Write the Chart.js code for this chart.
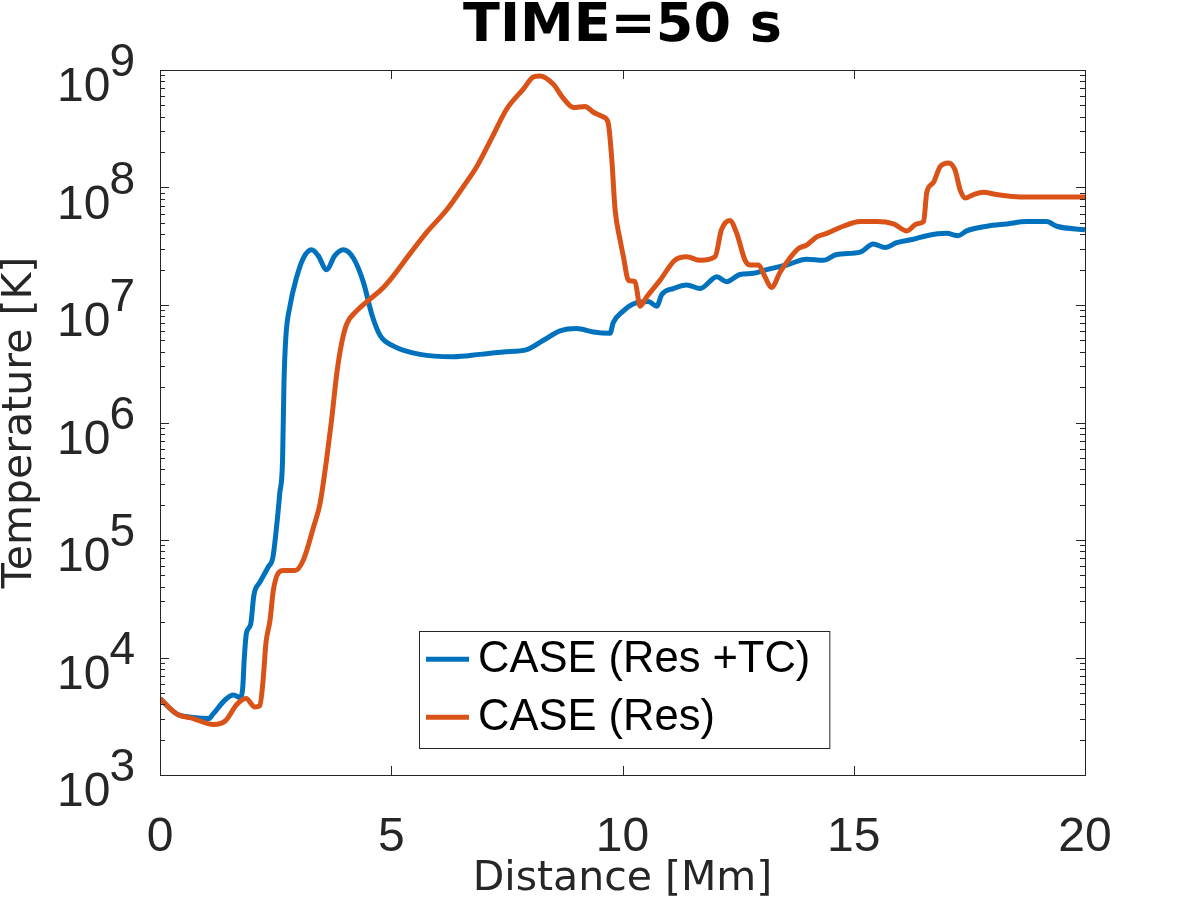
<!DOCTYPE html>
<html lang="en">
<head>
    <meta charset="UTF-8">
    <title>TIME=50 s</title>
    <script src="https://cdn.jsdelivr.net/npm/chart.js"></script>
    <style>
        body {
            margin: 0;
            background-color: #ffffff;
        }

        .chart-container {
            width: 1200px;
            height: 900px;
        }
    </style>
</head>
<body>

<div class="chart-container">
    <canvas id="tempChart" width="1200" height="900"></canvas>
</div>

<script>
    // Distance [Mm] / Temperature [K]
    const blueX = [0, 0.36, 0.72, 1.05, 1.15, 1.41, 1.59, 1.73, 1.79, 1.82,
        1.87, 1.96, 2.03, 2.16, 2.34, 2.44, 2.52, 2.59, 2.65, 2.68,
        2.72, 2.81, 2.95, 3.10, 3.28, 3.42, 3.60, 3.78, 3.96, 4.18,
        4.40, 4.58, 4.76, 5.05, 5.62, 6.34, 6.92, 7.42, 7.93, 8.29,
        8.65, 9.01, 9.37, 9.73, 9.80, 10.02, 10.23, 10.56, 10.74, 10.85,
        11.10, 11.39, 11.68, 12.04, 12.25, 12.54, 12.83, 13.12, 13.55, 13.98,
        14.34, 14.63, 15.14, 15.42, 15.68, 15.93, 16.29, 16.58, 17.01, 17.26,
        17.44, 17.88, 18.31, 18.74, 19.17, 19.39, 20];
    const blueT = [4.47e3, 3.31e3, 3.09e3, 3.02e3, 3.31e3, 4.37e3, 4.79e3, 4.57e3, 5.62e3, 9.55e3,
        1.62e4, 1.91e4, 3.39e4, 4.37e4, 5.89e4, 7.08e4, 1.29e5, 2.51e5, 4.79e5, 2.14e6,
        5.25e6, 9.77e6, 1.70e7, 2.51e7, 2.95e7, 2.63e7, 2.0e7, 2.63e7, 2.95e7, 2.51e7,
        1.55e7, 8.32e6, 5.50e6, 4.47e6, 3.80e6, 3.63e6, 3.80e6, 3.98e6, 4.17e6, 5.01e6,
        6.03e6, 6.31e6, 5.89e6, 5.75e6, 7.08e6, 8.91e6, 1.02e7, 1.07e7, 9.77e6, 1.23e7,
        1.38e7, 1.48e7, 1.38e7, 1.74e7, 1.58e7, 1.82e7, 1.86e7, 2.0e7, 2.19e7, 2.45e7,
        2.40e7, 2.69e7, 2.82e7, 3.31e7, 3.09e7, 3.39e7, 3.63e7, 3.89e7, 4.07e7, 3.89e7,
        4.27e7, 4.68e7, 4.90e7, 5.13e7, 5.13e7, 4.68e7, 4.37e7];

    const orangeX = [0, 0.36, 0.72, 1.15, 1.41, 1.66, 1.86, 2.05, 2.16, 2.23,
        2.29, 2.38, 2.45, 2.56, 2.67, 2.92, 3.10, 3.32, 3.46, 3.60,
        3.71, 3.82, 3.93, 4.04, 4.25, 4.54, 4.83, 5.05, 5.41, 5.77,
        6.20, 6.56, 6.85, 7.21, 7.50, 7.86, 8.07, 8.22, 8.50, 8.72,
        8.94, 9.19, 9.37, 9.59, 9.69, 9.77, 9.84, 9.95, 10.02, 10.13,
        10.27, 10.38, 10.52, 10.81, 11.13, 11.39, 11.68, 12.00, 12.14, 12.32,
        12.47, 12.65, 12.76, 12.94, 13.08, 13.22, 13.41, 13.62, 13.80, 13.98,
        14.20, 14.42, 14.77, 15.14, 15.50, 15.86, 16.15, 16.36, 16.51, 16.58,
        16.72, 16.87, 17.05, 17.19, 17.30, 17.41, 17.59, 17.80, 18.09, 18.60, 20];
    const orangeT = [4.47e3, 3.31e3, 3.02e3, 2.69e3, 2.88e3, 3.98e3, 4.47e3, 3.80e3, 3.89e3, 6.46e3,
        1.32e4, 2.09e4, 3.72e4, 5.25e4, 5.50e4, 5.50e4, 6.76e4, 1.29e5, 2.04e5, 4.79e5,
        1.05e6, 2.57e6, 4.79e6, 6.92e6, 8.91e6, 1.12e7, 1.41e7, 1.78e7, 2.75e7, 4.17e7,
        6.46e7, 1.02e8, 1.51e8, 2.82e8, 4.68e8, 6.92e8, 8.71e8, 8.91e8, 7.59e8, 5.75e8,
        4.79e8, 4.90e8, 4.37e8, 3.98e8, 3.55e8, 1.70e8, 6.46e7, 3.55e7, 2.57e7, 1.62e7,
        1.58e7, 9.77e6, 1.17e7, 1.62e7, 2.40e7, 2.57e7, 2.40e7, 2.57e7, 4.37e7, 5.25e7,
        4.07e7, 2.40e7, 2.19e7, 2.19e7, 1.74e7, 1.41e7, 1.91e7, 2.51e7, 3.02e7, 3.24e7,
        3.80e7, 4.07e7, 4.68e7, 5.13e7, 5.13e7, 4.90e7, 4.27e7, 4.90e7, 5.13e7, 9.12e7,
        1.10e8, 1.51e8, 1.62e8, 1.41e8, 9.55e7, 8.13e7, 8.71e7, 9.12e7, 8.71e7, 8.32e7, 8.32e7];

    const seriesLabels = ['CASE (Res +TC)', 'CASE (Res)'];
    const xTicks = [0, 5, 10, 15, 20];
    const yTickExps = [3, 4, 5, 6, 7, 8, 9];
    const yMinorSteps = [2, 3, 4, 5, 6, 7, 8, 9];

    const AXIS_COLOR = '#262626';
    const TICK_FONT = '"Liberation Sans", Arial, sans-serif';

    function toPoints(xs, ys) {
        return xs.map((x, i) => ({ x: x, y: ys[i] }));
    }

    // box, inward ticks (MATLAB style), 10^n labels and the legend
    const matlabAxes = {
        id: 'matlabAxes',
        afterDraw(chart) {
            const ctx = chart.ctx;
            const a = chart.chartArea;
            const xs = chart.scales.x;
            const ys = chart.scales.y;

            ctx.save();
            ctx.strokeStyle = AXIS_COLOR;
            ctx.lineWidth = 1;
            ctx.strokeRect(a.left + 0.5, a.top + 0.5, a.right - a.left, a.bottom - a.top);

            ctx.beginPath();
            xTicks.forEach(v => {
                const px = Math.round(xs.getPixelForValue(v)) + 0.5;
                ctx.moveTo(px, a.bottom);
                ctx.lineTo(px, a.bottom - 9);
                ctx.moveTo(px, a.top);
                ctx.lineTo(px, a.top + 9);
            });
            yTickExps.forEach(e => {
                const py = Math.round(ys.getPixelForValue(Math.pow(10, e))) + 0.5;
                ctx.moveTo(a.left, py);
                ctx.lineTo(a.left + 9, py);
                ctx.moveTo(a.right, py);
                ctx.lineTo(a.right - 9, py);
                if (e === yTickExps[yTickExps.length - 1]) return;
                yMinorSteps.forEach(m => {
                    const pm = Math.round(ys.getPixelForValue(m * Math.pow(10, e))) + 0.5;
                    ctx.moveTo(a.left, pm);
                    ctx.lineTo(a.left + 5, pm);
                    ctx.moveTo(a.right, pm);
                    ctx.lineTo(a.right - 5, pm);
                });
            });
            ctx.stroke();

            // y tick labels as 10 with raised exponent
            ctx.fillStyle = AXIS_COLOR;
            ctx.textAlign = 'right';
            ctx.textBaseline = 'alphabetic';
            const labelRight = a.left - 25;
            yTickExps.forEach(e => {
                const py = ys.getPixelForValue(Math.pow(10, e));
                ctx.font = '46px ' + TICK_FONT;
                const expW = ctx.measureText(String(e)).width;
                ctx.fillText(String(e), labelRight, py + 6);
                ctx.font = '48px ' + TICK_FONT;
                ctx.fillText('10', labelRight - expW + 1, py + 31);
            });

            // legend box
            const lx = a.left + 0.28 * (a.right - a.left);
            const ly = a.top + 0.796 * (a.bottom - a.top);
            ctx.font = '43.5px ' + TICK_FONT;
            const textW = Math.max(...chart.data.datasets.map(d => ctx.measureText(d.label).width));
            const boxW = 59 + textW + 19;
            const rowH = 58;
            ctx.fillStyle = '#ffffff';
            ctx.fillRect(lx, ly, boxW, rowH * 2 + 1);
            ctx.strokeStyle = AXIS_COLOR;
            ctx.lineWidth = 1;
            ctx.strokeRect(Math.round(lx) + 0.5, Math.round(ly) + 0.5, boxW, rowH * 2 + 1);
            chart.data.datasets.forEach((d, i) => {
                const cy = ly + 28 + i * rowH;
                ctx.strokeStyle = d.borderColor;
                ctx.lineWidth = 5;
                ctx.beginPath();
                ctx.moveTo(lx + 7, cy);
                ctx.lineTo(lx + 50, cy);
                ctx.stroke();
                ctx.fillStyle = '#000000';
                ctx.textAlign = 'left';
                ctx.textBaseline = 'middle';
                ctx.fillText(d.label, lx + 59, cy + 1);
            });
            ctx.restore();
        }
    };

    const ctx = document.getElementById('tempChart').getContext('2d');

    new Chart(ctx, {
        type: 'line',
        data: {
            datasets: [{
                label: seriesLabels[0],
                data: toPoints(blueX, blueT),
                borderColor: '#0072BD',
                borderWidth: 5,
                pointRadius: 0,
                cubicInterpolationMode: 'monotone',
                order: 1
            }, {
                label: seriesLabels[1],
                data: toPoints(orangeX, orangeT),
                borderColor: '#D95319',
                borderWidth: 5,
                pointRadius: 0,
                cubicInterpolationMode: 'monotone',
                order: 0
            }]
        },
        options: {
            responsive: false,
            animation: false,
            layout: {
                padding: { left: 0, right: 115, top: 0, bottom: 0 }
            },
            plugins: {
                legend: { display: false },
                tooltip: { enabled: false },
                title: {
                    display: true,
                    text: 'TIME=50 s',
                    fullSize: false,
                    color: '#000000',
                    font: { family: '"DejaVu Sans", sans-serif', size: 54, weight: 'bold', lineHeight: 1 },
                    padding: { top: 0, bottom: 16 }
                }
            },
            scales: {
                x: {
                    type: 'linear',
                    min: 0,
                    max: 20,
                    afterBuildTicks: scale => {
                        scale.ticks = xTicks.map(v => ({ value: v }));
                    },
                    afterFit: scale => {
                        scale.height = 125;
                    },
                    grid: { display: false, drawTicks: false },
                    border: { display: false },
                    ticks: {
                        color: AXIS_COLOR,
                        padding: 34,
                        maxRotation: 0,
                        font: { family: TICK_FONT, size: 48 }
                    },
                    title: {
                        display: true,
                        text: 'Distance [Mm]',
                        color: AXIS_COLOR,
                        padding: 0,
                        font: { family: '"DejaVu Sans", sans-serif', size: 41, lineHeight: 1 }
                    }
                },
                y: {
                    type: 'logarithmic',
                    min: 1e3,
                    max: 1e9,
                    afterBuildTicks: scale => {
                        scale.ticks = yTickExps.map(e => ({ value: Math.pow(10, e) }));
                    },
                    afterFit: scale => {
                        scale.width = 160;
                    },
                    grid: { display: false, drawTicks: false },
                    border: { display: false },
                    ticks: { display: false },
                    title: {
                        display: true,
                        text: 'Temperature [K]',
                        color: AXIS_COLOR,
                        padding: 0,
                        font: { family: '"DejaVu Sans", sans-serif', size: 41, lineHeight: 1 }
                    }
                }
            }
        },
        plugins: [matlabAxes]
    });
</script>
</body>
</html>
